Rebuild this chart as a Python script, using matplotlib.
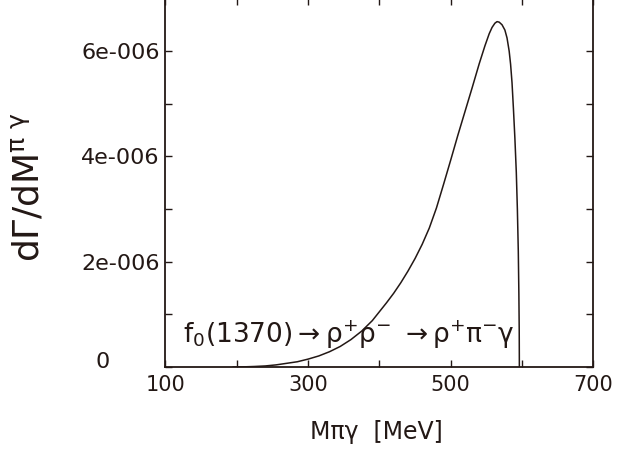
import matplotlib
matplotlib.use("Agg")
import matplotlib.pyplot as plt

mass = [195, 210, 225, 240, 255, 270, 285, 300, 315, 330, 345, 360, 375, 390,
        400, 410, 420, 430, 440, 450, 460, 470, 480, 490, 500, 510, 520, 530,
        540, 548, 554, 558, 562, 565, 568, 572, 576, 579, 582, 584, 586, 588,
        590, 592, 593.5, 594.8, 595.6, 596.1, 596.3]
rate_e6 = [0, 0.003, 0.01, 0.02, 0.04, 0.07, 0.10, 0.15, 0.21, 0.29, 0.39,
           0.52, 0.68, 0.88, 1.05, 1.22, 1.40, 1.60, 1.82, 2.06, 2.33, 2.64,
           3.02, 3.47, 3.93, 4.40, 4.85, 5.30, 5.76, 6.10, 6.33, 6.45, 6.53,
           6.56, 6.55, 6.50, 6.40, 6.25, 6.00, 5.75, 5.40, 4.90, 4.35, 3.70,
           3.0, 2.2, 1.4, 0.7, 0]
xticks = [100, 200, 300, 400, 500, 600, 700]
xticklabels = ['100', '', '300', '', '500', '', '700']
yticks_e6 = [0, 1, 2, 3, 4, 5, 6, 7]
yticklabels = ['', '', '2e-006', '', '4e-006', '', '6e-006', '']

INK = '#231815'
plt.rcParams['font.family'] = ['DejaVu Sans']
plt.rcParams['mathtext.fontset'] = 'dejavusans'

fig = plt.figure(figsize=(6.17, 4.55), dpi=100)
ax = fig.add_axes([0.2682, 0.1934, 0.6934, 0.810])

rate = [v * 1e-6 for v in rate_e6]
ax.plot(mass, rate, color=INK, lw=1.1)

ax.set_xlim(100, 700)
ax.set_ylim(0, 7e-6)
ax.set_xticks(xticks)
ax.set_xticklabels(xticklabels)
ax.set_yticks([v * 1e-6 for v in yticks_e6])
ax.set_yticklabels(yticklabels)
ax.tick_params(axis='both', direction='in', length=5, width=1, color=INK,
               labelcolor=INK, labelsize=15, top=True, right=True)
ax.tick_params(axis='x', pad=6)
ax.tick_params(axis='y', pad=4, labelsize=16)
for s in ax.spines.values():
    s.set_color(INK)
    s.set_linewidth(1.3)

ax.text(-0.146, 0.014, '0', transform=ax.transAxes, ha='center', va='center',
        fontsize=16, color=INK)

fig.text(28 / 617, 1 - 187 / 455, r'd$\Gamma$/dM$^{\mathrm{\pi\ \gamma}}$',
         rotation=90, ha='center', va='center', fontsize=26, color=INK)
fig.text(376 / 617, 1 - 432 / 455, 'Mπγ  [MeV]', ha='center', va='center',
         fontsize=17, color=INK)
fig.text(183 / 617, 1 - 342.7 / 455,
         r'f$_0$(1370)$\rightarrow$ρ$^{+}$ρ$^{-}$ $\rightarrow$ρ$^{+}$π$^{-}$γ',
         ha='left', va='baseline', fontsize=19, color=INK)

fig.savefig('out.png', dpi=100)
